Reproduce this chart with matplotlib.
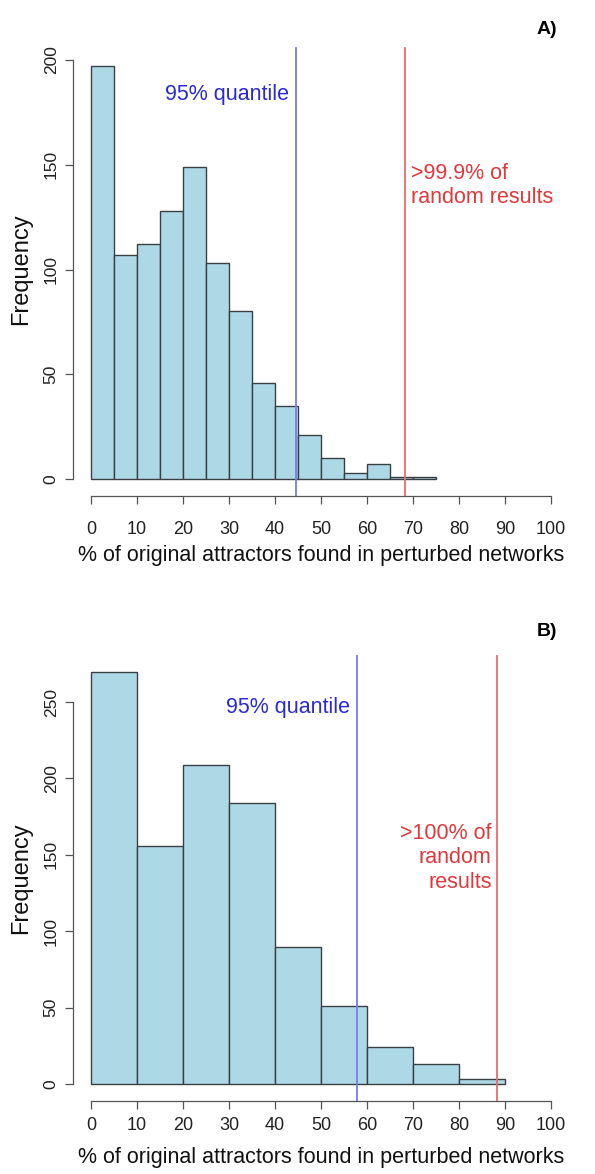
import numpy as np
import matplotlib
matplotlib.use('Agg')
import matplotlib.pyplot as plt

plt.rcParams['font.family'] = ['Liberation Sans Narrow', 'Liberation Sans', 'DejaVu Sans']

# panel A: bins of width 5
edges_a = [0, 5, 10, 15, 20, 25, 30, 35, 40, 45, 50, 55, 60, 65, 70, 75]
counts_a = [197, 107, 112, 128, 149, 103, 80, 46, 35, 21, 10, 3, 7, 1, 1]
q95_a = 44.6
top_a = 68.3

# panel B: bins of width 10
edges_b = [0, 10, 20, 30, 40, 50, 60, 70, 80, 90]
counts_b = [270, 156, 209, 184, 90, 51, 24, 13, 3]
q95_b = 57.8
top_b = 88.3

xticks = [0, 10, 20, 30, 40, 50, 60, 70, 80, 90, 100]
yticks_a = [0, 50, 100, 150, 200]
yticks_b = [0, 50, 100, 150, 200, 250]

xlab = '% of original attractors found in perturbed networks'

fig = plt.figure(figsize=(5.95, 11.74), dpi=100)
W, H = 595, 1174


def make_ax(x0, x1, ytop, ybot):
    return fig.add_axes([x0 / W, 1 - ybot / H, (x1 - x0) / W, (ybot - ytop) / H])


def draw_hist(ax, edges, counts, yticks, ymax, xpad, xlpad):
    e = np.array(edges)
    ax.bar(e[:-1], counts, width=np.diff(e), align='edge',
           color='#add8e6', edgecolor='#3a3f44', linewidth=1.0)
    ax.set_xlim(-4, 104)
    ax.set_ylim(-0.04 * ymax, 1.04 * ymax)
    for s in ['top', 'right']:
        ax.spines[s].set_visible(False)
    ax.spines['left'].set_bounds(yticks[0], yticks[-1])
    ax.spines['bottom'].set_bounds(0, 100)
    for s in ['left', 'bottom']:
        ax.spines[s].set_color('#555555')
        ax.spines[s].set_linewidth(0.9)
    ax.set_xticks(xticks)
    ax.set_yticks(yticks)
    ax.set_yticklabels([str(v) for v in yticks], rotation=90, va='center')
    ax.tick_params(direction='out', length=6, width=0.9, color='#555555',
                   labelsize=12.5, labelcolor='#222222', pad=4)
    ax.tick_params(axis='x', pad=xpad, labelsize=13)
    ax.set_xlabel(xlab, fontsize=15.5, labelpad=xlpad, color='#111111')
    ax.set_ylabel('Frequency', fontsize=17, labelpad=8, color='#111111')


# panel A
axa = make_ax(72.6, 569.4, 43.2, 495.8)
draw_hist(axa, edges_a, counts_a, yticks_a, 200, 12, 5)
axa.axvline(q95_a, ymax=0.99, color='#7a7af0', linewidth=1.3)
axa.axvline(top_a, ymax=0.99, color='#f06a6a', linewidth=1.3)
axa.text(q95_a - 1.5, 183.5, '95% quantile', color='#2a2ad6', fontsize=15.5,
         ha='right', va='center')
axa.text(top_a + 1.2, 140, '>99.9% of\nrandom results', color='#e0393c',
         fontsize=15.5, ha='left', va='center', linespacing=1.2)
fig.text(557 / W, 1 - 30 / H, 'A)', fontsize=14, fontweight='bold',
         ha='right', va='center', family='Liberation Sans')

# panel B
axb = make_ax(72.6, 569.4, 655, 1100.5)
draw_hist(axb, edges_b, counts_b, yticks_b, 270, 6, 9)
axb.axvline(q95_b, color='#7a7af0', linewidth=1.3)
axb.axvline(top_b, color='#f06a6a', linewidth=1.3)
axb.text(q95_b - 1.5, 246.7, '95% quantile', color='#2a2ad6', fontsize=15.5,
         ha='right', va='center')
axb.text(top_b - 1.2, 148, '>100% of\nrandom\nresults', color='#e0393c',
         fontsize=15.5, ha='right', va='center', multialignment='right',
         linespacing=1.2)
fig.text(557 / W, 1 - 632 / H, 'B)', fontsize=14, fontweight='bold',
         ha='right', va='center', family='Liberation Sans')

fig.savefig('out.png', dpi=100)
